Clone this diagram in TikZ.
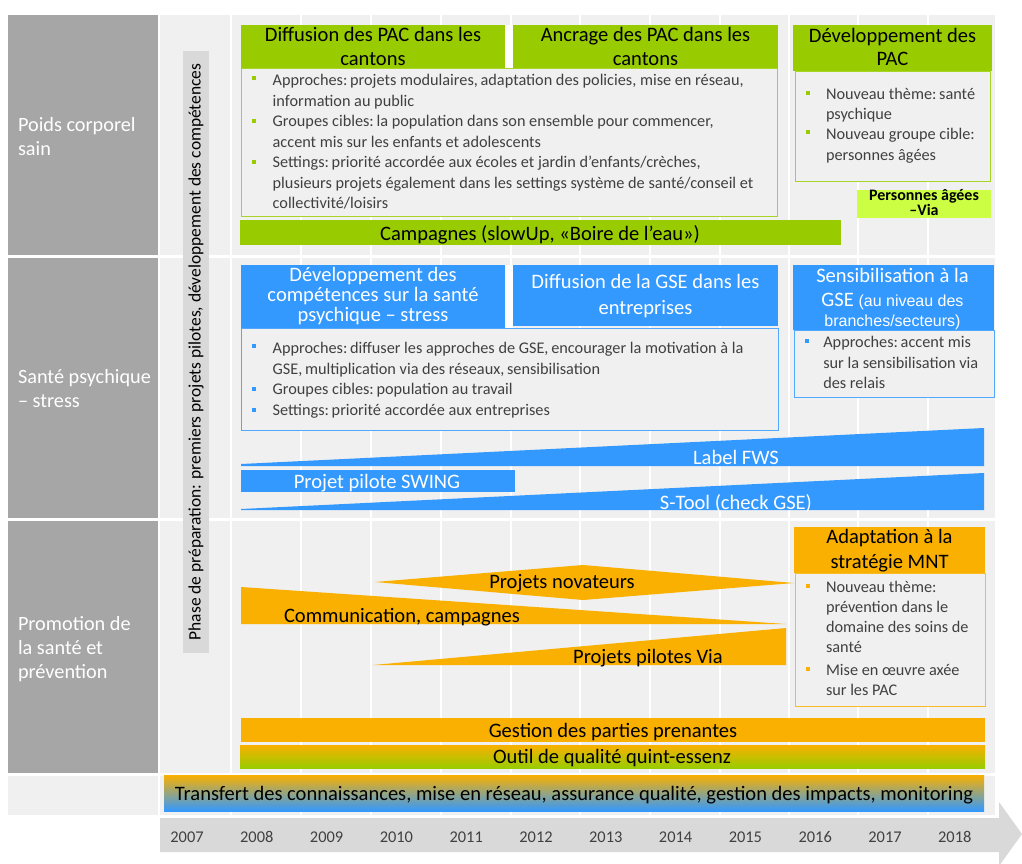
\documentclass[tikz,border=0pt]{standalone}
\usepackage{fontspec}
\setmainfont{Carlito}
\newfontfamily\arialf{Liberation Sans}
\usetikzlibrary{fit}
\definecolor{cgreen}{HTML}{99CC00}
\definecolor{clime}{HTML}{CCFF44}
\definecolor{cblue}{HTML}{3399FF}
\definecolor{corange}{HTML}{F9B000}
\definecolor{cgray}{HTML}{A6A6A6}
\definecolor{cbg}{HTML}{F0F0F0}
\definecolor{ctl}{HTML}{D9D9D9}
\definecolor{ctext}{HTML}{404040}
\newcommand\fl{\rule{0pt}{11pt}}
\newcommand\flr{\rule{0pt}{12pt}}
\newcommand\flh{\rule{0pt}{12pt}}
\begin{document}
\begin{tikzpicture}[x=0.75pt,y=-0.75pt,
  bx/.style={inner sep=0pt,outer sep=0pt},
  hdr/.style={bx,anchor=north,align=center,font=\fontsize{15.4}{17.25}\selectfont},
  bartxt/.style={bx,anchor=base,font=\fontsize{15.4}{17}\selectfont},
  bultxt/.style={bx,anchor=north west,align=left,text=ctext,font=\fontsize{12.2}{15.45}\selectfont},
  bsq/.style={bx,minimum size=3pt,fill=#1},
  rowlab/.style={bx,anchor=north west,align=left,text=white,font=\fontsize{15.2}{18}\selectfont},
  yr/.style={bx,text=ctext,font=\fontsize{12.3}{14}\selectfont},
  gbox/.style={bx,draw=#1,line width=0.75pt,fill=cbg},
]
\useasboundingbox (0,0) rectangle (1022,864);
\fill[white] (0,0) rectangle (1022,864);
% background grid
\fill[cbg] (160,15) rectangle (995,815);
\foreach \x in {231,301,371,441,511,580,650,720,789,858,928}
  \draw[white,line width=2.2pt] (\x,15) -- (\x,815);
\foreach \y in {256.5,519.5,774.5}
  \draw[white,line width=2.2pt] (160,\y) -- (995,\y);

% left column
\node[bx,fit={(8,15)(158,255)},fill=cgray] (r1) {};
\node[bx,fit={(8,258)(158,518)},fill=cgray] (r2) {};
\node[bx,fit={(8,521)(158,773)},fill=cgray] (r3) {};
\node[bx,fit={(8,776)(158,815)},fill=cbg] (r4) {};
\node[rowlab] (r1t) at (18,115) {\flr Poids corporel\\sain};
\node[rowlab] (r2t) at (18,367) {\flr Santé psychique\\– stress};
\node[rowlab] (r3t) at (18,614) {\flr Promotion de\\la santé et\\prévention};

% phase
\node[bx,fit={(183,51)(209,653)},fill=ctl] (ph) {};
\node[bx,rotate=90,font=\fontsize{13.1}{14}\selectfont] (pht) at (196,352) {Phase de préparation: premiers projets pilotes, développement des compétences};

% green section
\fill[white] (505,25) rectangle (513,68);
\node[gbox=cgreen!85,fit={(241,68)(777,216)}] (gbx) {};
\node[bx,fit={(241,25)(505,68)},fill=cgreen] (gh1) {};
\node[hdr] (gh1t) at (373,25.7) {\flh Diffusion des PAC dans les\\[0.75pt]cantons};
\node[bx,fit={(513,25)(778,68)},fill=cgreen] (gh2) {};
\node[hdr] (gh2t) at (645.5,25.7) {\flh Ancrage des PAC dans les\\[0.75pt]cantons};
\node[bsq=cgreen] (gs1) at (254.3,78) {};
\node[bultxt] (gt1) at (272.7,70.8) {\fl Approches:\,projets modulaires,\,adaptation des policies, mise en réseau,\\information au public};
\node[bsq=cgreen] (gs2) at (254.3,120.5) {};
\node[bultxt] (gt2) at (272.7,112) {\fl Groupes cibles:\,la population dans son ensemble pour commencer,\\accent mis sur les enfants et adolescents};
\node[bsq=cgreen] (gs3) at (254.3,161.5) {};
\node[bultxt] (gt3) at (272.7,153) {\fl Settings:\,priorité accordée aux écoles et jardin d'enfants/crèches,\\plusieurs projets également dans les settings système de santé/conseil et\\collectivité/loisirs};
\node[bx,fit={(240,220)(841,245)},fill=cgreen] (camp) {};
\node[bartxt] (campt) at (540,240) {Campagnes (slowUp, «Boire de l’eau»)};
\node[gbox=cgreen!85,fit={(795,71)(990,181)}] (dbx) {};
\node[bx,fit={(793,25)(992,71)},fill=cgreen] (dh) {};
\node[hdr] (dht) at (892.5,26.3) {\flh Développement des\\PAC};
\node[bsq=cgreen] (ds1) at (808.3,93.3) {};
\node[bultxt] (dt1) at (826,84.6) {\fl Nouveau thème:\,santé\\psychique};
\node[bsq=cgreen] (ds2) at (808.3,132.3) {};
\node[bultxt] (dt2) at (826,125.3) {\fl Nouveau groupe cible:\\personnes âgées};
\node[bx,fit={(857,190)(991,218)},fill=clime] (pav) {};
\node[bx,anchor=north,align=center,font=\bfseries\fontsize{12}{10}\selectfont] (pavt) at (924,188.5) {\rule{0pt}{9pt}Personnes âgées\\–Via};

% blue section
\fill[white] (505,265) rectangle (513,328);
\node[gbox=cblue!85,fit={(241,328)(778,430)}] (bbx) {};
\node[bx,fit={(241,265)(505,328)},fill=cblue] (bh1) {};
\node[hdr,text=white] (bh1t) at (373,265) {\flh Développement des\\[-1.95pt]compétences sur la santé\\[-1.95pt]psychique – stress};
\node[bx,fit={(513,265)(778,326)},fill=cblue] (bh2) {};
\node[hdr,text=white] (bh2t) at (645.5,272.8) {\flh Diffusion de la GSE dans les\\[1.9pt]entreprises};
\node[bsq=cblue] (bs1) at (254.3,346) {};
\node[bultxt] (bt1) at (272.7,339.3) {\fl Approches:\,diffuser les approches de GSE,\,encourager la motivation à la\\GSE,\,multiplication via des réseaux,\,sensibilisation};
\node[bsq=cblue] (bs2) at (254.3,389) {};
\node[bultxt] (bt2) at (272.7,380.3) {\fl Groupes cibles:\,population au travail};
\node[bsq=cblue] (bs3) at (254.3,410) {};
\node[bultxt] (bt3) at (272.7,401.3) {\fl Settings:\,priorité accordée aux entreprises};
\node[gbox=cblue!85,fit={(794,330)(994,397)}] (sbx) {};
\node[bx,fit={(793,265)(994,330)},fill=cblue] (sh) {};
\node[hdr,text=white] (sht) at (892.5,266.3) {\flh Sensibilisation à la\\[1pt]GSE {\arialf\fontsize{12}{14}\selectfont(au niveau des}\\[-2.25pt]{\arialf\fontsize{12}{14}\selectfont branches/secteurs)}};
\node[bsq=cblue] (ss1) at (806.7,341) {};
\node[bultxt] (st1) at (823.3,333) {\fl Approches:\,accent mis\\sur la sensibilisation via\\des relais};
\fill[cblue] (241,464) -- (984,428) -- (984,466) -- (241,466) -- cycle;
\node[bartxt,text=white] (fws) at (736,464) {Label FWS};
\node[bx,fit={(241,470)(515,492)},fill=cblue] (swb) {};
\node[bartxt,text=white] (swt) at (377,488) {Projet pilote SWING};
\fill[cblue] (241,509) -- (984,473) -- (984,510) -- (241,510) -- cycle;
\node[bartxt,text=white] (stl) at (736,509) {S-Tool (check GSE)};

% orange section
\node[gbox=corange!85,fit={(795,573)(985,706)}] (abx) {};
\node[bx,fit={(794,527)(985,573)},fill=corange] (ah) {};
\node[hdr] (aht) at (889.5,527.3) {\flh Adaptation à la\\[1.5pt]stratégie MNT};
\node[bsq=corange] (as1) at (808.3,585.7) {};
\node[bultxt,font=\fontsize{12.2}{15}\selectfont] (at1) at (826,578) {\fl Nouveau thème:\\prévention dans le\\domaine des soins de\\santé};
\node[bsq=corange] (as2) at (808.3,668.7) {};
\node[bultxt,font=\fontsize{12.2}{15}\selectfont] (at2) at (826,661.3) {\fl Mise en œuvre axée\\sur les PAC};
\fill[corange] (375,582) -- (583,565) -- (794,583) -- (583,600) -- cycle;
\node[bartxt] (nov) at (562,588) {Projets novateurs};
\fill[corange] (241,587) -- (786,624) -- (241,624) -- cycle;
\node[bartxt] (com) at (402,622) {Communication, campagnes};
\fill[corange] (373,665) -- (786,628) -- (786,665) -- cycle;
\node[bartxt] (pvia) at (648,663) {Projets pilotes Via};
\node[bx,fit={(241,718)(985,742)},fill=corange] (gest) {};
\node[bartxt] (gestt) at (613,737) {Gestion des parties prenantes};
\node[bx,fit={(240,745)(985,768)},top color=corange,bottom color=cgreen] (outil) {};
\node[bartxt] (outilt) at (612,763) {Outil de qualité quint-essenz};
\node[bx,fit={(164,775)(984,811)},top color=corange,middle color=cgreen,bottom color=cblue] (trans) {};
\node[bartxt] (transt) at (574,800) {Transfert des connaissances, mise en réseau, assurance qualité, gestion des impacts, monitoring};

% timeline
\fill[ctl] (160,818) -- (999,818) -- (999,802) -- (1022,834) -- (999,866) -- (999,852) -- (160,852) -- cycle;
\foreach \yy [count=\k from 0] in {2007,2008,2009,2010,2011,2012,2013,2014,2015,2016,2017,2018}
  \node[yr] (y\yy) at ({187+69.8*\k},837) {\yy};
\end{tikzpicture}
\end{document}
